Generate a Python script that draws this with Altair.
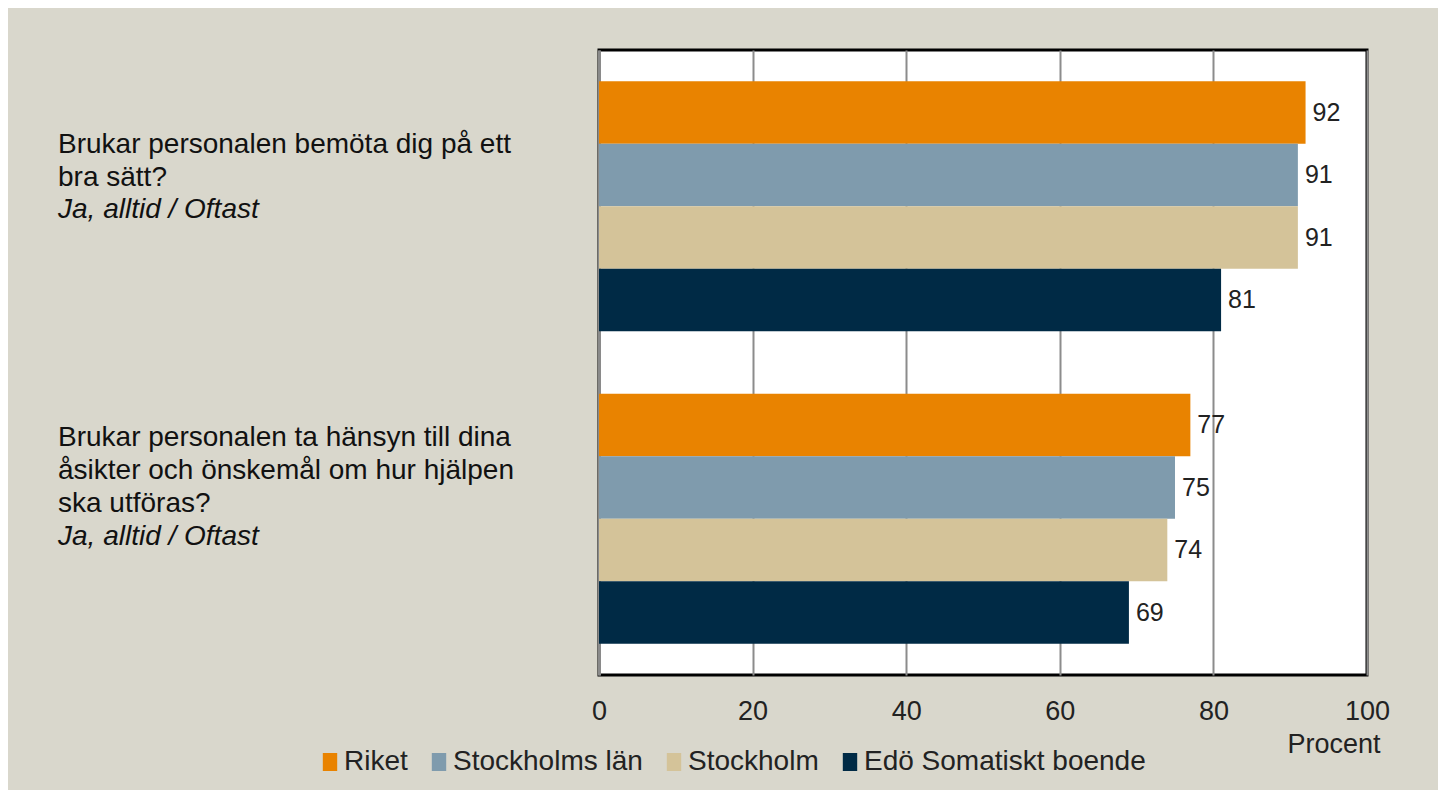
import altair as alt
import pandas as pd

# ---- data ----
questions = [
    "Brukar personalen bemöta dig på ett bra sätt?",
    "Brukar personalen ta hänsyn till dina åsikter och önskemål om hur hjälpen ska utföras?",
]
question_lines = [
    "Brukar personalen bemöta dig på ett\nbra sätt?",
    "Brukar personalen ta hänsyn till dina\nåsikter och önskemål om hur hjälpen\nska utföras?",
]
answer_notes = ["Ja, alltid / Oftast", "Ja, alltid / Oftast"]
series = ["Riket", "Stockholms län", "Stockholm", "Edö Somatiskt boende"]
q1_values = [92, 91, 91, 81]
q2_values = [77, 75, 74, 69]
colors = ["#E98300", "#7F9BAD", "#D4C399", "#002A45"]
x_ticks = [0, 20, 40, 60, 80, 100]

rows = []
for q, vals in zip(questions, [q1_values, q2_values]):
    for s, v in zip(series, vals):
        rows.append({"fraga": q, "serie": s, "procent": v})
df = pd.DataFrame(rows)

lab_df = pd.DataFrame({"fraga": questions, "rader": question_lines, "note": answer_notes})

FONT = "Liberation Sans"
BG = "#D9D7CC"

y_enc = alt.Y(
    "fraga:N",
    sort=questions,
    scale=alt.Scale(paddingInner=0.2, paddingOuter=0.1),
    axis=alt.Axis(labels=False, ticks=False, title=None, grid=False,
                  domainColor="#8a8a8a", domainWidth=3),
)
x_enc = alt.X(
    "procent:Q",
    scale=alt.Scale(domain=[0, 100], nice=False),
    axis=alt.Axis(
        values=x_ticks, grid=True, gridColor="#8c8c8c", gridWidth=2,
        domain=False, ticks=False, tickSize=0, labelPadding=23, labelFlush=False,
        labelFont=FONT, labelFontSize=27, labelColor="#222222",
        title="Procent", titleX=781, titleY=77, titleAlign="right",
        titleBaseline="alphabetic", titleFont=FONT, titleFontSize=27,
        titleFontWeight="normal", titleColor="#222222",
    ),
)
yoff = alt.YOffset("serie:N", sort=series, scale=alt.Scale(paddingInner=0, paddingOuter=0))

bars = alt.Chart(df).mark_bar(opacity=1).encode(
    x=x_enc,
    y=y_enc,
    yOffset=yoff,
    color=alt.Color(
        "serie:N", sort=series,
        scale=alt.Scale(domain=series, range=colors),
        legend=alt.Legend(
            title=None, orient="none", direction="horizontal", columns=4,
            legendX=-283, legendY=698, padding=0,
            symbolType="M-0.8,-1H0.8V1H-0.8Z", symbolSize=324,
            symbolStrokeWidth=0, symbolOpacity=1,
            labelFont=FONT, labelFontSize=28, labelColor="#222222",
            labelLimit=0, labelOffset=0, columnPadding=17,
        ),
    ),
)

values = alt.Chart(df).mark_text(
    align="left", baseline="middle", dx=7, font=FONT, fontSize=25, color="#222222"
).encode(
    x=alt.X("procent:Q"),
    y=alt.Y("fraga:N", sort=questions),
    yOffset=yoff,
    text=alt.Text("procent:Q"),
)

layers = [bars, values]
normal_dy = [-53, -73]
note_dy = [12, 26]
for i, q in enumerate(questions):
    base = alt.Chart(lab_df).transform_filter(alt.FieldEqualPredicate(field="fraga", equal=q))
    layers.append(
        base.mark_text(align="left", baseline="alphabetic", lineBreak="\n", lineHeight=33,
                       dy=normal_dy[i], font=FONT, fontSize=28, color="#111111")
        .encode(x=alt.value(-541), y=alt.Y("fraga:N", sort=questions), text="rader:N")
    )
    layers.append(
        base.mark_text(align="left", baseline="alphabetic", dy=note_dy[i], font=FONT,
                       fontSize=28, fontStyle="italic", color="#111111")
        .encode(x=alt.value(-541), y=alt.Y("fraga:N", sort=questions), text="note:N")
    )

chart = alt.layer(*layers).properties(
    width=768, height=625,
    padding={"left": 591, "top": 42, "right": 71, "bottom": 115},
    autosize=alt.AutoSizeParams(type="none"),
    background=BG,
).configure_view(fill="white", stroke="black", strokeWidth=3)

chart.save("out.html", embed_options={"renderer": "svg", "actions": False})
